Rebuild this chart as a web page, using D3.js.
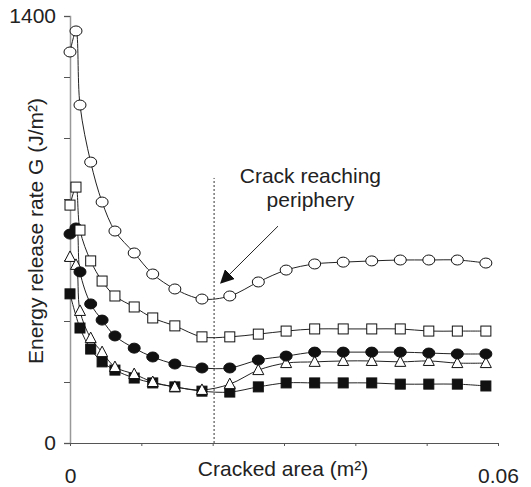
<!DOCTYPE html>
<html>
<head>
<meta charset="utf-8">
<script src="https://cdn.jsdelivr.net/npm/d3@7"></script>
<style>
  body { margin: 0; background: #fff; }
  svg { display: block; font-family: "Liberation Sans", Arial, sans-serif; }
  .axis text { font-size: 21px; fill: #222; }
</style>
</head>
<body>
<div class="chart"></div>
<script>
// cracked area (m2), shared by all series
const crackArea = [0, 0.00084, 0.0014, 0.0029, 0.0045, 0.0063, 0.0090, 0.0116, 0.0147, 0.0185,
  0.0224, 0.0264, 0.0303, 0.0343, 0.0383, 0.0423, 0.0463, 0.0503, 0.0543, 0.0583];

// energy release rate G (J/m2), null = no point
const gOpenCircle = [1282, 1351, 1108, 921, 790, 695, 623, 554, 505, 472,
  482, 528, 567, 587, 593, 597, 600, 600, 600, 590];
const gOpenSquare = [780, 839, 698, 597, 531, 482, 446, 410, 384, 348,
  348, 357, 367, 374, 374, 374, 374, 367, 367, 367];
const gFilledCircle = [685, 705, 561, 456, 403, 351, 311, 282, 259, 246,
  246, 272, 285, 298, 298, 298, 298, 295, 292, 292];
const gOpenTriangle = [610, 584, 433, 344, 298, 249, 226, 200, 184, 174,
  193, 239, 262, 266, 269, 269, 266, 269, 262, 262];
const gFilledSquare = [489, null, 377, 308, 266, 239, 213, 197, 184, 170,
  167, 184, 197, 197, 197, 197, 193, 193, 193, 187];

const yTicks = [0, 200, 400, 600, 800, 1000, 1200, 1400];
const xTicks = [0, 0.01, 0.02, 0.03, 0.04, 0.05, 0.06];
const crackEdge = 0.0202; // where the crack reaches periphery

const W = 531, H = 487;
const margin = { left: 70, right: 33, top: 16, bottom: 44 };

const svg = d3.select('.chart').append('svg').attr('width', W).attr('height', H);

const x = d3.scaleLinear().domain([0, 0.06]).range([margin.left, W - margin.right]);
const y = d3.scaleLinear().domain([0, 1400]).range([H - margin.bottom, margin.top]);

// axes
const yAxis = d3.axisLeft(y).tickValues(yTicks).tickSize(6).tickPadding(8)
  .tickFormat(d => (d === 0 || d === 1400) ? d : '');
const yG = svg.append('g').attr('class', 'axis').attr('transform', `translate(${margin.left},0)`).call(yAxis);
yG.select('.domain').attr('stroke', '#999').attr('stroke-width', 1.5);
yG.selectAll('.tick line').attr('stroke', '#555');

const xAxis = d3.axisBottom(xTicks.length ? x : x).tickValues(xTicks).tickSize(3)
  .tickFormat(d => d === 0 ? '0' : (Math.abs(d - 0.06) < 1e-9 ? '0.06' : ''));
const xG = svg.append('g').attr('class', 'axis').attr('transform', `translate(0,${H - margin.bottom})`).call(xAxis);
xG.select('.domain').attr('stroke', '#555');
xG.selectAll('.tick line').attr('stroke', '#555');
xG.selectAll('.tick text').attr('y', 40).attr('dy', null);

// axis titles
svg.append('text').attr('x', 283).attr('y', 476).attr('text-anchor', 'middle')
  .style('font-size', '21px').style('fill', '#222').text('Cracked area (m²)');
svg.append('text').attr('transform', `translate(43,${231}) rotate(-90)`).attr('text-anchor', 'middle')
  .style('font-size', '21px').style('fill', '#222').text('Energy release rate G (J/m²)');

// dotted line where crack reaches periphery
svg.append('line')
  .attr('x1', x(crackEdge)).attr('x2', x(crackEdge))
  .attr('y1', y(0)).attr('y2', y(869))
  .attr('stroke', '#333').attr('stroke-width', 1).attr('stroke-dasharray', '2,2');

// series
const series = [
  { name: 'filledSquare', g: gFilledSquare, shape: 'square', fill: '#111' },
  { name: 'openTriangle', g: gOpenTriangle, shape: 'triangle', fill: '#fff' },
  { name: 'filledCircle', g: gFilledCircle, shape: 'circle', fill: '#111' },
  { name: 'openSquare', g: gOpenSquare, shape: 'square', fill: '#fff' },
  { name: 'openCircle', g: gOpenCircle, shape: 'circle', fill: '#fff' }
];

const line = d3.line().x(d => x(d.a)).y(d => y(d.g)).curve(d3.curveCatmullRom.alpha(0.5));

series.forEach(s => {
  s.pts = crackArea.map((a, i) => ({ a: a, g: s.g[i] })).filter(d => d.g !== null);
  svg.append('path').datum(s.pts).attr('d', line)
    .attr('fill', 'none').attr('stroke', '#222').attr('stroke-width', 1);
});

series.forEach(s => {
  const g = svg.append('g').attr('class', s.name);
  const sel = g.selectAll('.pt').data(s.pts).enter();
  if (s.shape === 'circle') {
    sel.append('ellipse').attr('cx', d => x(d.a)).attr('cy', d => y(d.g))
      .attr('rx', 6).attr('ry', 5);
  } else if (s.shape === 'square') {
    sel.append('rect').attr('x', d => x(d.a) - 5).attr('y', d => y(d.g) - 5)
      .attr('width', 10).attr('height', 10);
  } else {
    sel.append('path').attr('transform', d => `translate(${x(d.a)},${y(d.g)})`)
      .attr('d', 'M0,-6L5.5,4.5L-5.5,4.5Z');
  }
  g.selectAll('ellipse,rect,path').attr('fill', s.fill).attr('stroke', '#111').attr('stroke-width', 1);
});

// annotation
svg.append('defs').append('marker').attr('id', 'arrow')
  .attr('viewBox', '0 0 10 10').attr('refX', 9).attr('refY', 5)
  .attr('markerWidth', 14).attr('markerHeight', 14).attr('markerUnits', 'userSpaceOnUse')
  .attr('orient', 'auto')
  .append('path').attr('d', 'M0,0L10,5L0,10Z').attr('fill', '#111');
svg.append('line')
  .attr('x1', x(0.02916)).attr('y1', y(711))
  .attr('x2', x(0.02117)).attr('y2', y(525))
  .attr('stroke', '#222').attr('stroke-width', 1).attr('marker-end', 'url(#arrow)');

const note = svg.append('text').attr('text-anchor', 'middle').style('font-size', '21px').style('fill', '#222');
note.append('tspan').attr('x', x(0.0337)).attr('y', y(852)).text('Crack reaching');
note.append('tspan').attr('x', x(0.0337)).attr('y', y(774)).text('periphery');
</script>
</body>
</html>
